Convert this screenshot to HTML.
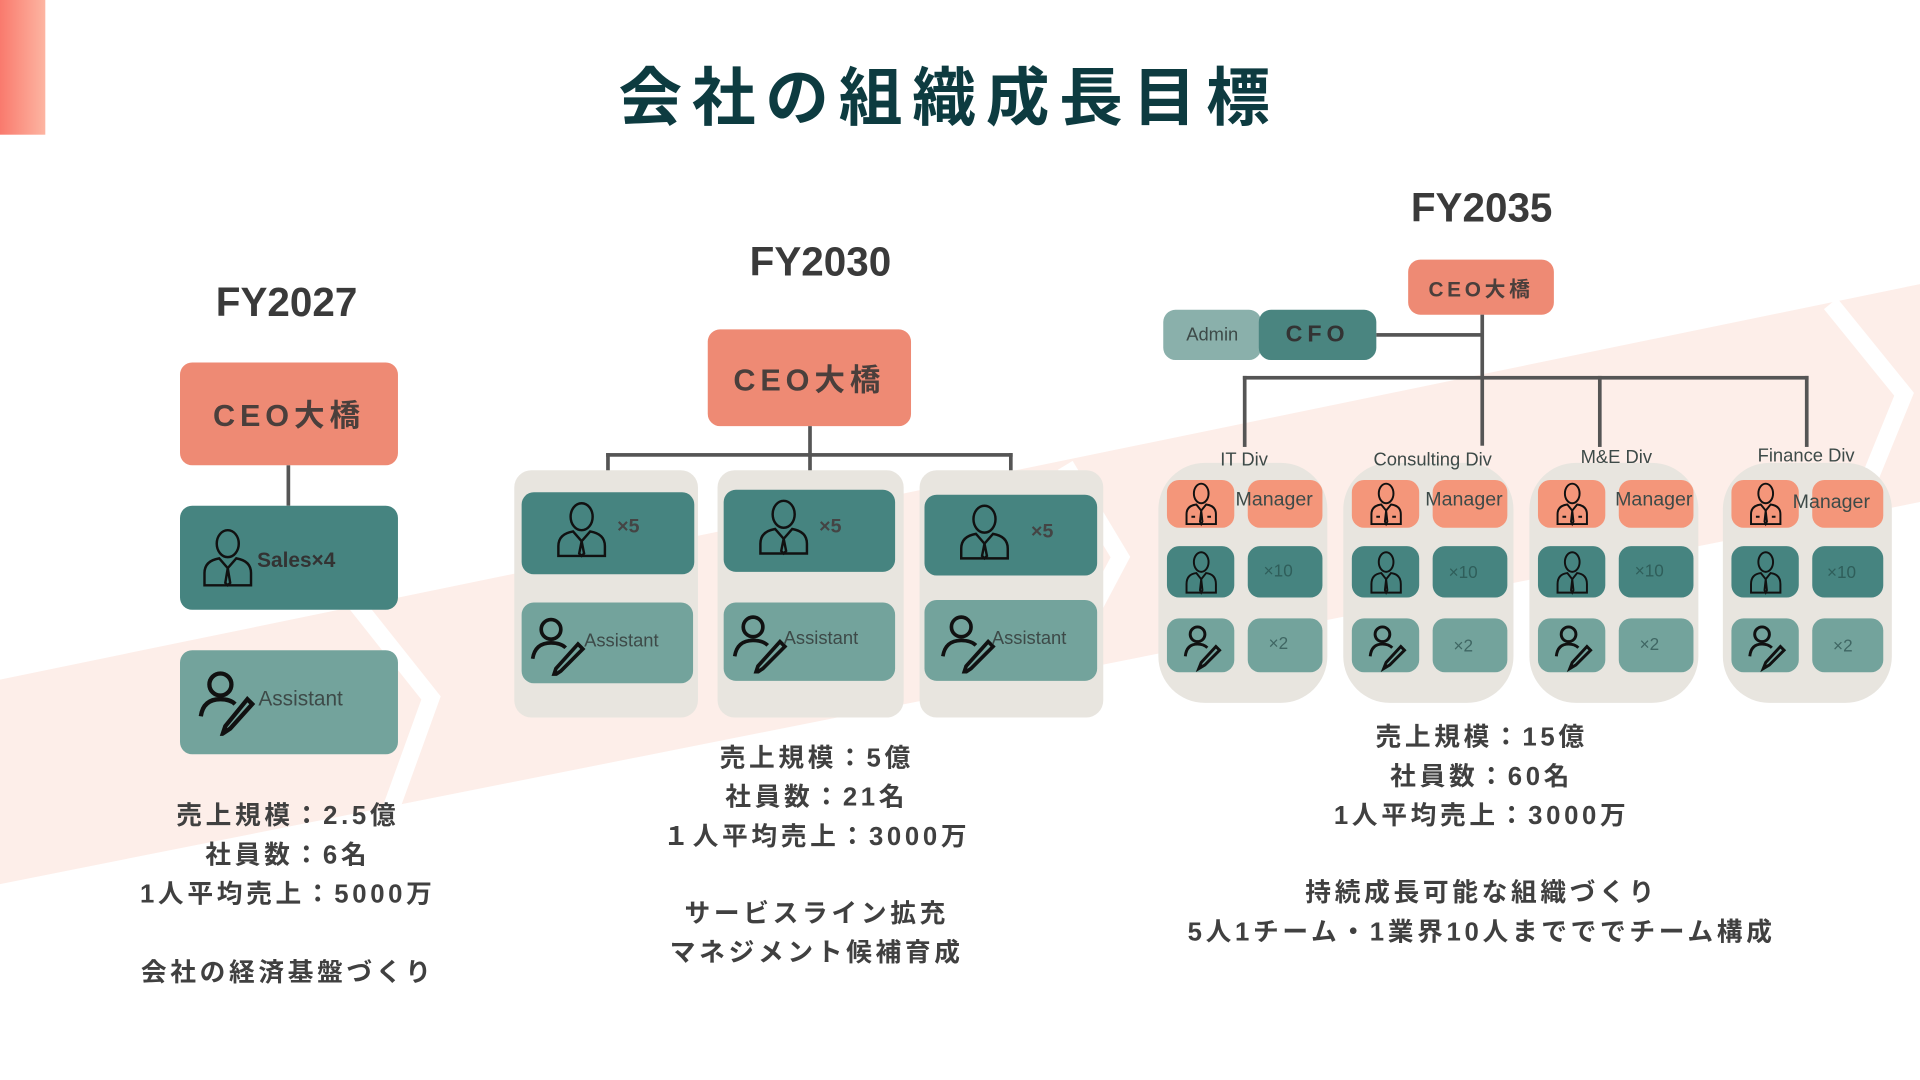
<!DOCTYPE html>
<html><head><meta charset="utf-8">
<style>
html,body{margin:0;padding:0;width:1920px;height:1080px;overflow:hidden;background:#fff}
#w{position:absolute;left:0;top:0;width:1568px;height:882px;transform:scale(1.22449);transform-origin:0 0;font-family:"Liberation Sans","Noto Sans CJK JP",sans-serif}
.a{position:absolute;box-sizing:border-box}
.r{border-radius:10px}
.c{text-align:center;white-space:nowrap}
.fy{font-weight:bold;font-size:33px;color:#3a3a3a}
.ceo{background:#ee8a74;color:#4a3f3c;font-weight:bold;display:flex;align-items:center;justify-content:center;letter-spacing:4px}
.st{font-weight:bold;font-size:21px;color:#404040;letter-spacing:3px;line-height:32px;text-align:center;white-space:nowrap}
.ln{position:absolute;background:#555}
.g{background:#e8e5df}
.t1{background:#468480}
.t2{background:#73a39c}
.sal{background:#f4967a}
.sm{font-size:15px;color:#3d4a48}
</style></head><body><div id="w">
<svg class="a" style="left:0;top:0" width="1568" height="882">
<defs><linearGradient id="gr" x1="0" y1="0" x2="1" y2="0"><stop offset="0" stop-color="#f97a6d"/><stop offset="1" stop-color="#fdb5a2"/></linearGradient></defs>
<rect x="0" y="0" width="37" height="110" fill="url(#gr)"/>
<polygon points="0,555 1568,232 1568,410 0,722" fill="#fdeee9"/>
<polyline points="290,492 352,570 305,700" fill="none" stroke="#fff" stroke-width="14"/>
<polyline points="870,380 915,455 870,540" fill="none" stroke="#fff" stroke-width="14"/>
<polyline points="1495,248 1555,322 1515,420" fill="none" stroke="#fff" stroke-width="14"/>
</svg>

<div class="a c" style="left:0;width:1550px;top:38px;font-size:52px;font-weight:bold;color:#0d3b40;letter-spacing:8px">会社の組織成長目標</div>

<!-- FY2027 -->
<div class="a c fy" style="left:134px;width:200px;top:228px">FY2027</div>
<div class="a r ceo" style="left:147px;top:296px;width:178px;height:84px;font-size:25px">CEO大橋</div>
<div class="ln" style="left:234px;top:380px;width:3px;height:33px"></div>
<div class="a r t1" style="left:147px;top:413px;width:178px;height:85px"></div>
<svg class="a" style="left:163px;top:430px" width="46" height="50"><g fill="none" stroke="#111" stroke-width="2"><ellipse cx="23" cy="14" rx="9" ry="11"/><path d="M4 48 V38 Q4 28 16 26 L23 34 L30 26 Q42 28 42 38 V48 Z"/><path d="M23 34 L21 46 L23 48 L25 46 Z"/></g></svg>
<div class="a" style="left:210px;top:448px;font-weight:bold;font-size:17px;color:#333">Sales×4</div>
<div class="a r t2" style="left:147px;top:531px;width:178px;height:85px"></div>
<svg class="a" style="left:160px;top:545px" width="52" height="56"><g fill="none" stroke="#111" stroke-width="3.5"><circle cx="20" cy="14" r="9"/><path d="M4 40 Q6 26 20 26 Q28 26 32 30"/><path d="M42 26 L24 48 L22 54 L28 50 L46 30 Z"/></g></svg>
<div class="a sm" style="left:211px;top:561px;font-size:17px">Assistant</div>
<div class="a st" style="left:35px;width:400px;top:651px">売上規模：2.5億<br>社員数：6名<br>1人平均売上：5000万</div>
<div class="a st" style="left:35px;width:400px;top:779px">会社の経済基盤づくり</div>

<!-- FY2030 -->
<div class="a c fy" style="left:570px;width:200px;top:195px">FY2030</div>
<div class="a r ceo" style="left:578px;top:269px;width:166px;height:79px;font-size:25px">CEO大橋</div>
<div class="ln" style="left:660px;top:348px;width:3px;height:52px"></div>
<div class="ln" style="left:495px;top:370px;width:332px;height:3px"></div>
<div class="ln" style="left:495px;top:370px;width:3px;height:32px"></div>
<div class="ln" style="left:824px;top:370px;width:3px;height:32px"></div>
<div class="a g" style="left:420px;top:384px;width:150px;height:202px;border-radius:14px"></div>
<div class="a g" style="left:586px;top:384px;width:152px;height:202px;border-radius:14px"></div>
<div class="a g" style="left:751px;top:384px;width:150px;height:202px;border-radius:14px"></div>

<div class="a r t1" style="left:426px;top:402px;width:141px;height:67px"></div>
<div class="a r t1" style="left:591px;top:400px;width:140px;height:67px"></div>
<div class="a r t1" style="left:755px;top:404px;width:141px;height:66px"></div>
<div class="a r t2" style="left:426px;top:492px;width:140px;height:66px"></div>
<div class="a r t2" style="left:591px;top:492px;width:140px;height:64px"></div>
<div class="a r t2" style="left:755px;top:490px;width:141px;height:66px"></div>

<svg class="a" style="left:452px;top:408px" width="46" height="50"><g fill="none" stroke="#111" stroke-width="2"><ellipse cx="23" cy="14" rx="9" ry="11"/><path d="M4 46 V38 Q4 28 16 26 L23 34 L30 26 Q42 28 42 38 V46 Z"/><path d="M23 34 L21 44 L23 46 L25 44 Z"/></g></svg>
<svg class="a" style="left:617px;top:406px" width="46" height="50"><g fill="none" stroke="#111" stroke-width="2"><ellipse cx="23" cy="14" rx="9" ry="11"/><path d="M4 46 V38 Q4 28 16 26 L23 34 L30 26 Q42 28 42 38 V46 Z"/><path d="M23 34 L21 44 L23 46 L25 44 Z"/></g></svg>
<svg class="a" style="left:781px;top:410px" width="46" height="50"><g fill="none" stroke="#111" stroke-width="2"><ellipse cx="23" cy="14" rx="9" ry="11"/><path d="M4 46 V38 Q4 28 16 26 L23 34 L30 26 Q42 28 42 38 V46 Z"/><path d="M23 34 L21 44 L23 46 L25 44 Z"/></g></svg>
<div class="a" style="left:504px;top:422px;font-weight:bold;font-size:16px;color:#444">×5</div>
<div class="a" style="left:669px;top:422px;font-weight:bold;font-size:16px;color:#444">×5</div>
<div class="a" style="left:842px;top:426px;font-weight:bold;font-size:16px;color:#444">×5</div>

<svg class="a" style="left:432px;top:502px" width="48" height="50"><g fill="none" stroke="#111" stroke-width="3"><circle cx="18" cy="12" r="8"/><path d="M3 36 Q5 23 18 23 Q26 23 30 27"/><path d="M40 24 L22 44 L20 50 L26 46 L44 28 Z"/></g></svg>
<svg class="a" style="left:597px;top:500px" width="48" height="50"><g fill="none" stroke="#111" stroke-width="3"><circle cx="18" cy="12" r="8"/><path d="M3 36 Q5 23 18 23 Q26 23 30 27"/><path d="M40 24 L22 44 L20 50 L26 46 L44 28 Z"/></g></svg>
<svg class="a" style="left:767px;top:500px" width="48" height="50"><g fill="none" stroke="#111" stroke-width="3"><circle cx="18" cy="12" r="8"/><path d="M3 36 Q5 23 18 23 Q26 23 30 27"/><path d="M40 24 L22 44 L20 50 L26 46 L44 28 Z"/></g></svg>
<div class="a sm" style="left:477px;top:515px">Assistant</div>
<div class="a sm" style="left:640px;top:513px">Assistant</div>
<div class="a sm" style="left:810px;top:513px">Assistant</div>

<div class="a st" style="left:467px;width:400px;top:604px">売上規模：5億<br>社員数：21名<br>１人平均売上：3000万</div>
<div class="a st" style="left:467px;width:400px;top:731px">サービスライン拡充<br>マネジメント候補育成</div>

<!-- FY2035 -->
<div class="a c fy" style="left:1110px;width:200px;top:151px">FY2035</div>
<div class="a r ceo" style="left:1150px;top:212px;width:119px;height:45px;font-size:17px;letter-spacing:3px">CEO大橋</div>
<div class="a" style="left:950px;top:253px;width:80px;height:41px;border-radius:10px;background:#8ab0ab;display:flex;align-items:center;justify-content:center;font-size:15px;color:#3d4a48">Admin</div>
<div class="a" style="left:1028px;top:253px;width:96px;height:41px;border-radius:10px;background:#4a8580;display:flex;align-items:center;justify-content:center;font-size:19px;font-weight:bold;color:#333;letter-spacing:4px">CFO</div>
<div class="ln" style="left:1209px;top:257px;width:3px;height:107px"></div>
<div class="ln" style="left:1124px;top:272px;width:86px;height:3px"></div>
<div class="ln" style="left:1015px;top:307px;width:462px;height:3px"></div>
<div class="ln" style="left:1015px;top:307px;width:3px;height:58px"></div>
<div class="ln" style="left:1305px;top:307px;width:3px;height:58px"></div>
<div class="ln" style="left:1474px;top:307px;width:3px;height:58px"></div>

<div class="a g" style="left:946px;top:378px;width:138px;height:196px;border-radius:38px"></div>
<div class="a g" style="left:1097px;top:378px;width:139px;height:196px;border-radius:38px"></div>
<div class="a g" style="left:1249px;top:378px;width:138px;height:196px;border-radius:38px"></div>
<div class="a g" style="left:1407px;top:378px;width:138px;height:196px;border-radius:38px"></div>

<div class="a c sm" style="left:966px;width:100px;top:367px">IT Div</div>
<div class="a sm" style="left:1120px;width:100px;top:365px;text-align:center;line-height:22px;white-space:normal">Consulting Div</div>
<div class="a c sm" style="left:1270px;width:100px;top:365px">M&amp;E Div</div>
<div class="a c sm" style="left:1415px;width:120px;top:364px">Finance Div</div>

<!-- IT -->
<div class="a sal" style="left:953px;top:392px;width:55px;height:39px;border-radius:10px"></div>
<div class="a sal" style="left:1019px;top:392px;width:61px;height:39px;border-radius:10px"></div>
<div class="a t1" style="left:953px;top:446px;width:55px;height:42px;border-radius:10px"></div>
<div class="a t1" style="left:1019px;top:446px;width:61px;height:42px;border-radius:10px"></div>
<div class="a t2" style="left:953px;top:505px;width:55px;height:44px;border-radius:10px"></div>
<div class="a t2" style="left:1019px;top:505px;width:61px;height:44px;border-radius:10px"></div>
<!-- Consulting -->
<div class="a sal" style="left:1104px;top:392px;width:55px;height:39px;border-radius:10px"></div>
<div class="a sal" style="left:1170px;top:392px;width:61px;height:39px;border-radius:10px"></div>
<div class="a t1" style="left:1104px;top:446px;width:55px;height:42px;border-radius:10px"></div>
<div class="a t1" style="left:1170px;top:446px;width:61px;height:42px;border-radius:10px"></div>
<div class="a t2" style="left:1104px;top:505px;width:55px;height:44px;border-radius:10px"></div>
<div class="a t2" style="left:1170px;top:505px;width:61px;height:44px;border-radius:10px"></div>
<!-- M&E -->
<div class="a sal" style="left:1256px;top:392px;width:55px;height:39px;border-radius:10px"></div>
<div class="a sal" style="left:1322px;top:392px;width:61px;height:39px;border-radius:10px"></div>
<div class="a t1" style="left:1256px;top:446px;width:55px;height:42px;border-radius:10px"></div>
<div class="a t1" style="left:1322px;top:446px;width:61px;height:42px;border-radius:10px"></div>
<div class="a t2" style="left:1256px;top:505px;width:55px;height:44px;border-radius:10px"></div>
<div class="a t2" style="left:1322px;top:505px;width:61px;height:44px;border-radius:10px"></div>
<!-- Finance -->
<div class="a sal" style="left:1414px;top:392px;width:55px;height:39px;border-radius:10px"></div>
<div class="a sal" style="left:1480px;top:392px;width:58px;height:39px;border-radius:10px"></div>
<div class="a t1" style="left:1414px;top:446px;width:55px;height:42px;border-radius:10px"></div>
<div class="a t1" style="left:1480px;top:446px;width:58px;height:42px;border-radius:10px"></div>
<div class="a t2" style="left:1414px;top:505px;width:55px;height:44px;border-radius:10px"></div>
<div class="a t2" style="left:1480px;top:505px;width:58px;height:44px;border-radius:10px"></div>

<svg class="a" style="left:0;top:0" width="1568" height="882">
<defs>
<g id="mp" fill="none" stroke="#111" stroke-width="1.6"><ellipse cx="15" cy="9" rx="6" ry="8"/><path d="M3 34 V26 Q3 19 11 18 L15 23 L19 18 Q27 19 27 26 V34 Z"/><path d="M15 23 L14 32 L15 34 L16 32 Z"/><path d="M7 28 H10 M20 28 H23"/></g>
<g id="sp" fill="none" stroke="#111" stroke-width="1.6"><ellipse cx="15" cy="9" rx="6" ry="8"/><path d="M3 34 V27 Q3 19 11 18 L15 23 L19 18 Q27 19 27 27 V34 Z"/><path d="M15 23 L14 32 L15 34 L16 32 Z"/></g>
<g id="ap" fill="none" stroke="#111" stroke-width="2.4"><circle cx="12" cy="8" r="6"/><path d="M2 26 Q3 16 12 16 Q17 16 20 19"/><path d="M27 18 L15 31 L13 36 L18 33 L30 21 Z"/></g>
</defs>
<use href="#mp" x="966" y="394"/><use href="#sp" x="966" y="450"/><use href="#ap" x="966" y="510"/>
<use href="#mp" x="1117" y="394"/><use href="#sp" x="1117" y="450"/><use href="#ap" x="1117" y="510"/>
<use href="#mp" x="1269" y="394"/><use href="#sp" x="1269" y="450"/><use href="#ap" x="1269" y="510"/>
<use href="#mp" x="1427" y="394"/><use href="#sp" x="1427" y="450"/><use href="#ap" x="1427" y="510"/>
</svg>

<div class="a sm" style="left:1009px;top:400px;font-size:16px">Manager</div>
<div class="a sm" style="left:1164px;top:400px;font-size:16px">Manager</div>
<div class="a sm" style="left:1319px;top:400px;font-size:16px">Manager</div>
<div class="a sm" style="left:1464px;top:402px;font-size:16px">Manager</div>
<div class="a sm" style="left:1032px;top:458px;font-size:14px;color:#2f5e5a">×10</div>
<div class="a sm" style="left:1183px;top:459px;font-size:14px;color:#2f5e5a">×10</div>
<div class="a sm" style="left:1335px;top:458px;font-size:14px;color:#2f5e5a">×10</div>
<div class="a sm" style="left:1492px;top:459px;font-size:14px;color:#2f5e5a">×10</div>
<div class="a sm" style="left:1036px;top:517px;font-size:14px;color:#3f6663">×2</div>
<div class="a sm" style="left:1187px;top:519px;font-size:14px;color:#3f6663">×2</div>
<div class="a sm" style="left:1339px;top:518px;font-size:14px;color:#3f6663">×2</div>
<div class="a sm" style="left:1497px;top:519px;font-size:14px;color:#3f6663">×2</div>

<div class="a st" style="left:1010px;width:400px;top:587px">売上規模：15億<br>社員数：60名<br>1人平均売上：3000万</div>
<div class="a st" style="left:910px;width:600px;top:714px">持続成長可能な組織づくり<br>5人1チーム・1業界10人までででチーム構成</div>
</div></body></html>
